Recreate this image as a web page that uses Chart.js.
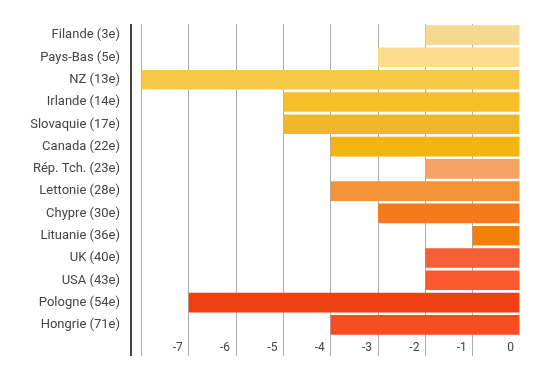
<!DOCTYPE html>
<html>
<head>
<meta charset="utf-8">
<script src="https://cdn.jsdelivr.net/npm/chart.js@4.4.1/dist/chart.umd.min.js"></script>
<style>
  html, body { margin: 0; padding: 0; background: #fff; }
  #wrap { width: 549px; height: 386px; }
</style>
</head>
<body>
<div id="wrap"><canvas id="chart"></canvas></div>
<script>
const countries = ['Filande (3e)', 'Pays-Bas (5e)', 'NZ (13e)', 'Irlande (14e)', 'Slovaquie (17e)',
  'Canada (22e)', 'Rép. Tch. (23e)', 'Lettonie (28e)', 'Chypre (30e)', 'Lituanie (36e)',
  'UK (40e)', 'USA (43e)', 'Pologne (54e)', 'Hongrie (71e)'];
const values = [-2, -3, -8, -5, -5, -4, -2, -4, -3, -1, -2, -2, -7, -4];
const barColors = ['#f5d993', '#fcdc8c', '#f7c746', '#f7be2a', '#f0b828', '#f2b411', '#f6a262',
  '#f39338', '#f57a1e', '#f57e0a', '#f55e36', '#fc5830', '#ef4014', '#f84c20'];
const xTicks = [-8, -7, -6, -5, -4, -3, -2, -1, 0];
const xMin = -8.22;
const xMax = 0;

const ctx = document.getElementById('chart');
new Chart(ctx, {
  type: 'bar',
  data: {
    labels: countries,
    datasets: [{
      data: values,
      backgroundColor: barColors,
      borderWidth: 0,
      categoryPercentage: 1,
      barPercentage: 0.88
    }]
  },
  options: {
    indexAxis: 'y',
    responsive: true,
    maintainAspectRatio: false,
    animation: false,
    layout: { padding: { top: 24, right: 29, bottom: 30, left: 0 } },
    plugins: { legend: { display: false }, tooltip: { enabled: false } },
    scales: {
      x: {
        min: xMin,
        max: xMax,
        afterBuildTicks: (axis) => {
          // the axis line sits at xMin, grid lines on whole numbers
          axis.ticks = [xMin].concat(xTicks).map(v => ({ value: v }));
        },
        afterFit: (scale) => { scale.height = 20; },
        border: { display: false },
        grid: {
          color: (c) => c.tick.value === xMin ? '#444' : (c.tick.value === 0 ? 'rgba(0,0,0,0)' : '#aaa'),
          lineWidth: (c) => c.tick.value === xMin ? 2 : 1,
          tickLength: 20
        },
        ticks: {
          align: 'end',
          padding: -15,
          color: '#444',
          font: { family: 'Roboto', size: 12 },
          maxRotation: 0,
          autoSkip: false,
          callback: (v) => (v === xMin || v <= -8) ? '' : v + '  '
        }
      },
      y: {
        border: { display: false },
        grid: { display: false, drawTicks: false },
        afterFit: (scale) => { scale.width = 131; },
        ticks: {
          padding: 11,
          color: '#444',
          font: { family: 'Roboto', size: 13 }
        }
      }
    }
  }
});
</script>
</body>
</html>
